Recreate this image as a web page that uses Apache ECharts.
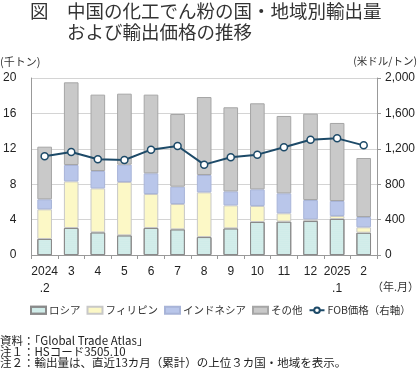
<!DOCTYPE html>
<html><head><meta charset="utf-8">
<script src="https://cdn.jsdelivr.net/npm/echarts@6/dist/echarts.min.js"></script>
<style>html,body{margin:0;padding:0;background:#fff}#c{width:420px;height:375px}</style>
</head><body><div id="c"></div>
<script>
const categories = ['2024\n.2','3','4','5','6','7','8','9','10','11','12','2025\n.1','2'];
const russia     = [1.81,3.05,2.56,2.22,3.05,2.90,2.03,3.01,3.73,3.77,3.84,4.07,2.52];
const philippines= [3.35,5.27,4.97,6.03,3.84,2.86,5.05,2.60,1.81,0.94,0.19,0.34,0.61];
const indonesia  = [1.13,1.85,1.96,1.96,2.34,1.96,1.96,1.58,1.88,2.26,2.18,1.69,1.16];
const others     = [5.95,9.34,8.63,8.02,8.89,8.21,8.81,9.50,9.72,8.74,9.76,8.82,6.67];
const fobPrice   = [1115,1164,1081,1073,1190,1232,1021,1104,1134,1217,1303,1318,1239];
const leftTicks  = [0,4,8,12,16,20];
const rightTicks = [0,400,800,1200,1600,2000];

const FONT = '"Noto Sans CJK JP", "Noto Sans", sans-serif';
const NUMFONT = '"Liberation Sans", Arial, sans-serif';
const chart = echarts.init(document.getElementById('c'), null, {renderer:'canvas'});
const barBase = {type:'bar', stack:'v', barWidth:'55%', yAxisIndex:0};
chart.setOption({
  animation:false,
  textStyle:{fontFamily:FONT},
  title:[
    {text:'図　中国の化工でん粉の国・地域別輸出量', left:30, top:2, padding:0, textStyle:{fontSize:18.5, fontWeight:'normal', color:'#333', fontFamily:FONT}},
    {text:'および輸出価格の推移', left:67, top:23, padding:0, textStyle:{fontSize:18.5, fontWeight:'normal', color:'#333', fontFamily:FONT}}
  ],
  graphic:[
    {type:'text', left:0, top:56, style:{text:'(千トン)', font:'11px '+FONT, fill:'#333'}},
    {type:'text', right:3, top:56, style:{text:'(米ドル/トン)', font:'10.5px '+FONT, fill:'#333'}},
    {type:'text', right:1, top:281, style:{text:'（年.月）', font:'11px '+FONT, fill:'#333'}},
    {type:'text', left:0, top:335, style:{text:'資料：「Global Trade Atlas」', font:'11.5px '+FONT, fill:'#222'}},
    {type:'text', left:0, top:346, style:{text:'注１：HSコード3505.10', font:'11.5px '+FONT, fill:'#222'}},
    {type:'text', left:0, top:357, style:{text:'注２：輸出量は、直近13カ月（累計）の上位３カ国・地域を表示。', font:'11.5px '+FONT, fill:'#222'}}
  ],
  legend:{
    top:305, left:30, padding:0, itemWidth:15, itemHeight:7, itemGap:6,
    textStyle:{fontSize:10.5, color:'#333', fontFamily:FONT, padding:[0,0,0,-2]},
    data:[
      {name:'ロシア', icon:'rect'},
      {name:'フィリピン', icon:'rect'},
      {name:'インドネシア', icon:'rect'},
      {name:'その他', icon:'rect'},
      {name:'FOB価格（右軸）'}
    ]
  },
  grid:{left:28, right:43, top:78, bottom:120},
  xAxis:{
    type:'category', data:categories, boundaryGap:true,
    axisLine:{lineStyle:{color:'#999'}},
    axisTick:{show:true, alignWithLabel:false, length:4, lineStyle:{color:'#999'}},
    axisLabel:{interval:0, fontSize:12, color:'#222', lineHeight:17, margin:8, fontFamily:NUMFONT}
  },
  yAxis:[
    {type:'value', min:0, max:20, interval:4,
     axisLine:{show:true, lineStyle:{color:'#999'}}, axisTick:{show:false},
     splitLine:{lineStyle:{color:'#d4d4d4'}},
     axisLabel:{fontSize:12, color:'#222', margin:15, fontFamily:NUMFONT,
       formatter:v=>leftTicks.includes(v)?String(v):''}},
    {type:'value', min:0, max:2000, interval:400,
     axisLine:{show:true, lineStyle:{color:'#999'}}, axisTick:{show:true, length:4, lineStyle:{color:'#999'}},
     splitLine:{show:false},
     axisLabel:{fontSize:12, color:'#222', margin:8, fontFamily:NUMFONT,
       formatter:v=>rightTicks.includes(v)?v.toLocaleString('en-US'):''}}
  ],
  series:[
    Object.assign({}, barBase, {name:'ロシア', data:russia,
      itemStyle:{color:'#d5efec', borderColor:'#8a8a8a', borderWidth:1,
        decal:{symbol:'circle', symbolSize:0.5, dashArrayX:[1,0], dashArrayY:[2,0], color:'rgba(90,170,170,0.35)'}}}),
    Object.assign({}, barBase, {name:'フィリピン', data:philippines,
      itemStyle:{color:'#fcf8c6', borderColor:'#c8c8c8', borderWidth:1}}),
    Object.assign({}, barBase, {name:'インドネシア', data:indonesia,
      itemStyle:{color:'#b9c6ea', borderColor:'#a8b4d8', borderWidth:1}}),
    Object.assign({}, barBase, {name:'その他', data:others,
      itemStyle:{color:'#c9c9c9', borderColor:'#a6a6a6', borderWidth:1}}),
    {type:'line', name:'FOB価格（右軸）', yAxisIndex:1, data:fobPrice,
     symbol:'circle', symbolSize:7, z:5,
     lineStyle:{color:'#1d4a68', width:2},
     itemStyle:{color:'#ffffff', borderColor:'#1d4a68', borderWidth:1.5}}
  ]
});
</script></body></html>
